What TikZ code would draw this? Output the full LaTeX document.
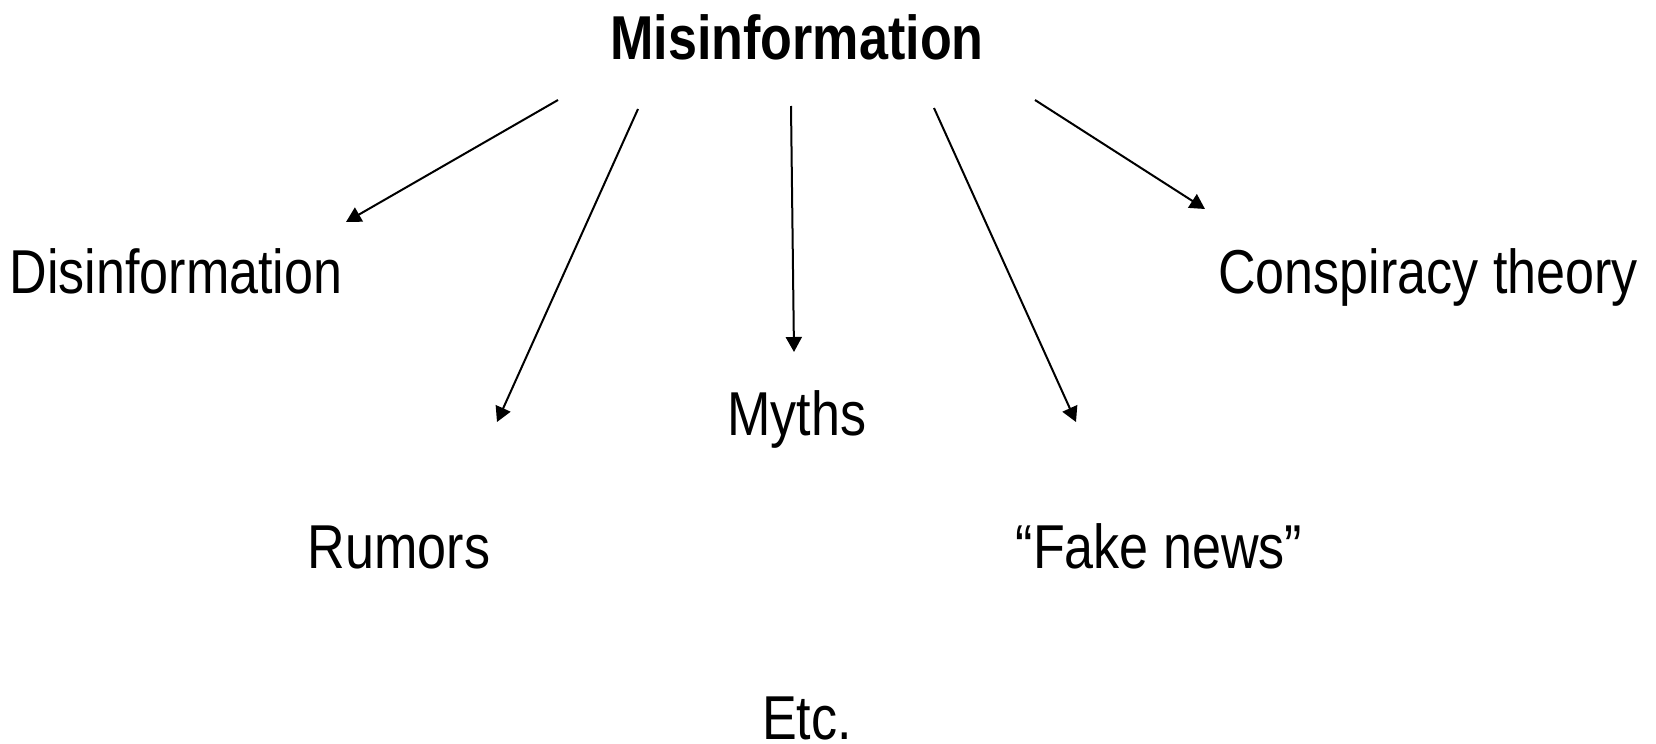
\documentclass[tikz,border=0pt]{standalone}
\usepackage{fontspec}
\setmainfont[FakeStretch=0.84]{Liberation Sans}
\usepackage{tikz}
\usetikzlibrary{arrows.meta}
\tikzset{
x=0.5pt, y=-0.5pt, % one unit is one pixel of the layout
word/.style={anchor=base, inner sep=0pt, font=\fontsize{31}{36}\selectfont}, % sets the look of every term
link/.style={line width=1pt, -{Triangle[length=7.5pt,width=8pt]}}, % the arrows
}
\begin{document}
\begin{tikzpicture}
    \useasboundingbox (0,0) rectangle (1656,744);
    \node[word, font=\fontsize{31}{36}\selectfont\bfseries] (mis) at (797,60) {Misinformation};
    \node[word] (dis) at (176,293) {Disinformation};
    \node[word] (con) at (1428,293) {Conspiracy theory};
    \node[word] (myt) at (797,435) {Myths};
    \node[word] (rum) at (399,568) {Rumors};
    \node[word] (fak) at (1159,568) {``Fake news''};
    \node[word] (etc) at (807,739) {Etc.};
    \coordinate (s1) at (558,100); \coordinate (t1) at (346,222);
    \coordinate (s2) at (638,109); \coordinate (t2) at (497,422);
    \coordinate (s3) at (791,106); \coordinate (t3) at (794,352);
    \coordinate (s4) at (934,108); \coordinate (t4) at (1076,422);
    \coordinate (s5) at (1035,100); \coordinate (t5) at (1205,209);
    \foreach \i in {1,...,5}
        \draw[link] (s\i) -- (t\i);
\end{tikzpicture}
\end{document}
